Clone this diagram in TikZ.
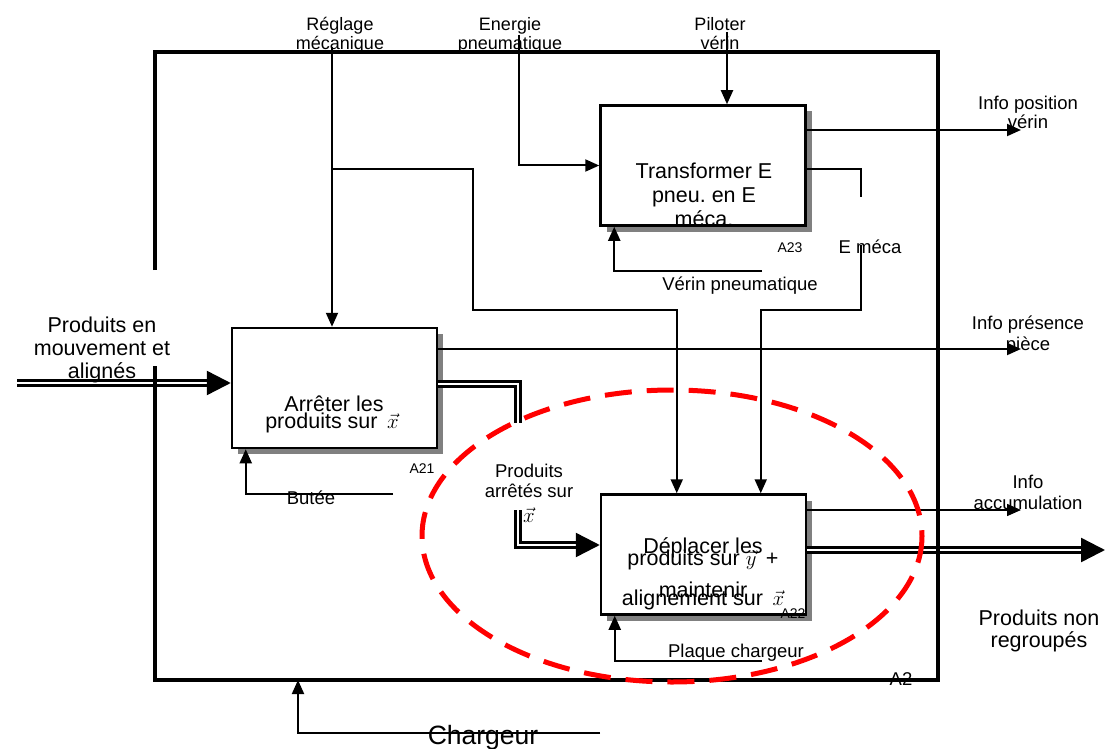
\documentclass[tikz,border=0pt]{standalone}
\usepackage{fontspec}
\setmainfont{Liberation Sans}
\usepackage{amsmath}
\usetikzlibrary{positioning,calc,arrows.meta}
\frenchspacing

\begin{document}
\begin{tikzpicture}[x=1pt,y=-1pt,line width=2pt,
    >={Triangle[length=14pt,width=12pt]},
    boite/.style={draw,line width=2.5pt,fill=white,minimum width=205pt,minimum height=120pt,inner sep=0pt,
        preaction={fill=gray,transform canvas={xshift=6pt,yshift=-6pt}}},
    flux/.style={double,double distance=2.5pt,line width=2.5pt,-{Triangle[length=24pt,width=24pt]}},
    petit/.style={font=\fontsize{18.5}{20}\selectfont,inner sep=0pt,align=center,anchor=base},
    grand/.style={font=\fontsize{21.5}{23}\selectfont,inner sep=0pt,align=center,anchor=base},
    repere/.style={font=\fontsize{14}{16}\selectfont,inner sep=0pt,anchor=base}]
    \useasboundingbox (0,0) rectangle (1106,749);

    % extremites libres des fleches
    \coordinate (pilot) at (727,32);
    \coordinate (energ) at (519,35);
    \coordinate (regl) at (332,47);
    \coordinate (reglB) at (332,169);
    \coordinate (emecaH) at (861,197);
    \coordinate (emecaB) at (861,245);
    \coordinate (verinF) at (762,271);
    \coordinate (buteeF) at (393,494);
    \coordinate (plaqueF) at (762,661);
    \coordinate (chargF) at (600,733);
    \coordinate (entreeF) at (17,383);
    \coordinate (sortieF) at (1105,550);

    \draw
        node[boite] (a21) at (334.5,388) {}
        node[boite] (a23) at (703,165.5) {}
        node[boite] (a22) at (703.5,554.5) {}
    ;

    % entrees / sorties
    \draw[flux] (entreeF) -- (a21.west |- entreeF);
    \draw[flux] (a21.east |- 0,384) -| (518,545) -- (a22.west |- 0,545);
    \draw[flux] (a22.east |- sortieF) -- (sortieF);
    \draw[->] (a21.east |- 0,349) -- (1021,349);
    \draw[->] (a23.east |- 0,130) -- (1021,130);
    \draw[->,line width=1.5pt] (a22.east |- 0,510) -- (1021,510);

    % controles
    \draw[->] (pilot) -- (pilot |- a23.north);
    \draw[->] (energ) |- (a23.west);
    \draw[->] (regl) -- (regl |- a21.north);
    \draw[->] (reglB) -| (473,310) -| ($(a22.north west)+(77,0)$);
    \draw (a23.east |- 0,169) -| (emecaH);
    \draw[->] (emecaB) -- (861,310) -| ($(a22.north west)+(161,0)$);

    % supports
    \draw[->] (verinF) -| ($(a23.south west)+(15,0)$);
    \draw[->] (buteeF) -| ($(a21.south west)+(15,0)$);
    \draw[->] (plaqueF) -| ($(a22.south west)+(15,0)$);
    \draw[->] (chargF) -| (298,680);

    \fill[white] (488,423) rectangle (572,510);

    \draw
        node[grand,font=\fontsize{21.5}{24}\selectfont] (t23) at (704,226) {Transformer E\\pneu. en E\\méca.}
        node[grand] (t21a) at (334,411) {Arrêter les}
        node[grand] (t21b) at (332,428) {produits sur \,$\vec{x}$}
        node[grand] (t22a) at (703,553) {Déplacer les}
        node[grand] (t22b) at (703,565) {produits sur $\vec{y}$ \,+}
        node[grand] (t22c) at (703,597) {maintenir}
        node[grand] (t22d) at (703,605) {alignement sur \,$\vec{x}$}

        node[repere] (n21) at (422,473) {A21}
        node[repere] (n22) at (793,618) {A22}
        node[repere] (n23) at (790,252) {A23}
        node[petit] (n2) at (901,685) {A2}

        node[petit,font=\fontsize{18}{19}\selectfont] (reglage) at (340,50) {Réglage\\mécanique}
        node[petit,font=\fontsize{18}{19}\selectfont] (energie) at (510,50) {Energie\\pneumatique}
        node[petit,font=\fontsize{18}{19}\selectfont] (piloter) at (720,50) {Piloter\\vérin}
        node[petit] (infopos) at (1028,129) {Info position\\vérin}
        node[petit,font=\fontsize{18.5}{21}\selectfont] (infopres) at (1028,350) {Info présence\\pièce}
        node[petit,font=\fontsize{18.5}{21}\selectfont] (infoacc) at (1028,509) {Info\\accumulation}
        node[grand,font=\fontsize{21.5}{22}\selectfont] (nonregr) at (1039,647) {Produits non\\regroupés}
        node[grand] (entree) at (102,378) {Produits en\\mouvement et\\alignés}
        node[petit] (butee) at (311,504) {Butée}
        node[petit] (arretes) at (529,497) {Produits\\arrêtés sur}
        node[grand] (vecx) at (529,522) {$\vec{x}$}
        node[petit] (plaque) at (736,657) {Plaque chargeur}
        node[petit] (emeca) at (870,253) {E méca}
        node[petit] (verin) at (740,290) {Vérin pneumatique}
        node[grand,font=\fontsize{26.5}{28}\selectfont] (chargeur) at (483,744) {Chargeur}
    ;

    % cadre A2
    \draw[line width=4pt] (155,270) |- (938,52) |- (155,680) -- (155,366);

    \draw[red,line width=5pt,dash pattern=on 27pt off 15pt] (672,536) ellipse [x radius=250,y radius=146];
\end{tikzpicture}
\end{document}
